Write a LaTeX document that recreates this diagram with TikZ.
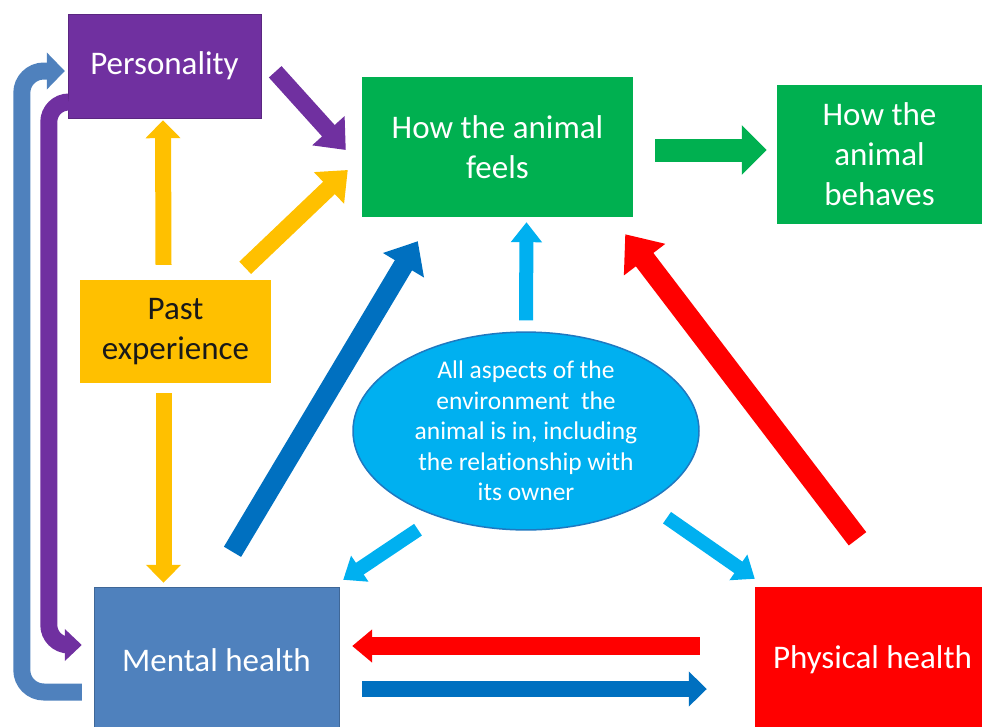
\documentclass[tikz,border=0pt]{standalone}
\usepackage{fontspec}
\setmainfont{Carlito}[Ligatures=NoCommon]
\usetikzlibrary{arrows.meta}
\usetikzlibrary{shapes.geometric}
\definecolor{purp}{HTML}{7030A0}
\definecolor{grn}{HTML}{00B050}
\definecolor{yel}{HTML}{FFC000}
\definecolor{mblue}{HTML}{4F81BD}
\definecolor{dblue}{HTML}{0070C0}
\definecolor{lblue}{HTML}{00B0F0}
\definecolor{ledge}{HTML}{1F78C0}

\begin{document}
\begin{tikzpicture}[x=1pt,y=-1pt,
    box/.style={rectangle,inner sep=0pt,align=center,text=white,
      font=\fontsize{33}{40}\selectfont},
    fat/.style n args={3}{line width=#1,-{Triangle[width=#2,length=#3]}}]
%      \draw[style=help lines] (0,0) grid[step=50] (982,726);
      \useasboundingbox (0,0) rectangle (982,726);
      \node[box,fill=purp,draw=purp!80!black,minimum width=193pt,minimum height=104pt]
        (pers) at (164.5,66) {Personality};
      \node[box,fill=grn,minimum width=271pt,minimum height=140pt]
        (feels) at (497.5,147) {How the animal\\feels};
      \node[box,fill=grn,minimum width=205pt,minimum height=139pt]
        (behaves) at (879.5,154.5) {How the\\animal\\behaves};
      \node[box,fill=yel,text=black!90,minimum width=191pt,minimum height=103pt]
        (past) at (175.5,331.5) {Past\\experience};
      \node[box,fill=mblue,draw=mblue!80!black,minimum width=245pt,minimum height=146pt]
        (mental) at (216.5,660) {Mental health};
      \node[box,fill=red,minimum width=235pt,minimum height=146pt]
        (phys) at (872.5,660) {Physical health};
      \node[ellipse,fill=lblue,draw=ledge,line width=1.5pt,inner sep=0pt,align=center,
        text=white,font=\fontsize{25.5}{30.5}\selectfont,minimum width=346pt,minimum height=164pt]
        (env) at (526,431) {All aspects of the\\environment~ the\\animal is in, including\\
        the relationship with\\its owner};
      % around the left side
      \draw[mblue,fat={17pt}{36pt}{18pt},rounded corners=22pt]
        ([xshift=-12pt,yshift=-32pt]mental.west) -- ++(-60,0) |- ([xshift=-3pt,yshift=-5pt]pers.west);
      \draw[purp,fat={17pt}{31pt}{17pt},rounded corners=20pt]
        ([xshift=1pt,yshift=-36pt]pers.west) -- ++(-20,0) |- ([xshift=-12pt,yshift=15pt]mental.west);
      % into the feelings
      \draw[purp,fat={17pt}{42pt}{26pt}]
        ([xshift=14pt,yshift=-58pt]pers.north east) -- ([xshift=-16pt,yshift=-3pt]feels.west);
      \draw[yel,fat={17pt}{42pt}{26pt}]
        ([xshift=-26pt,yshift=12pt]past.north east) -- ([xshift=-14pt,yshift=-23pt]feels.west);
      \draw[yel,fat={16pt}{34pt}{18pt}]
        ([xshift=-12pt,yshift=15pt]past.north) -- ([xshift=-1.5pt,yshift=-2pt]pers.south);
      \draw[yel,fat={16pt}{34pt}{18pt}]
        ([xshift=-12pt,yshift=-10pt]past.south) -- ([xshift=-53pt,yshift=4pt]mental.north);
      \draw[grn,fat={23pt}{48pt}{25pt}]
        ([xshift=22pt,yshift=-3pt]feels.east) -- ([xshift=-10pt,yshift=4.5pt]behaves.west);
      \draw[dblue,fat={20pt}{46pt}{28pt}]
        ([xshift=16pt,yshift=35pt]mental.north) -- ([xshift=56pt,yshift=-24pt]feels.south west);
      \draw[red,fat={22pt}{50pt}{32pt}]
        ([xshift=-15pt,yshift=48pt]phys.north) -- ([xshift=-8pt,yshift=-17pt]feels.south east);
      % out of the environment
      \draw[lblue,fat={14pt}{30pt}{20pt}]
        ([yshift=11pt]env.north) -- ([xshift=29pt,yshift=-5pt]feels.south);
      \draw[lblue,fat={14pt}{30pt}{20pt}]
        ([xshift=-108pt,yshift=1pt]env.south) -- ([xshift=4pt,yshift=7pt]mental.north east);
      \draw[lblue,fat={14pt}{30pt}{20pt}]
        ([xshift=141pt,yshift=13pt]env.south) -- ([yshift=8pt]phys.north west);
      % between the two healths
      \draw[red,fat={18pt}{32pt}{20pt}]
        ([xshift=-55pt,yshift=14pt]phys.west) -- ([xshift=13pt,yshift=14pt]mental.east);
      \draw[dblue,fat={16pt}{34pt}{18pt}]
        ([xshift=23pt,yshift=-29pt]mental.east) -- ([xshift=-48pt,yshift=-29pt]phys.west);
    \end{tikzpicture}
\end{document}
